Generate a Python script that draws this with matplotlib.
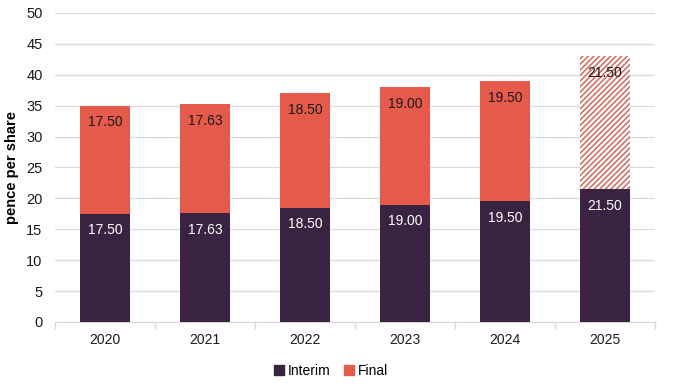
import numpy as np
import matplotlib.pyplot as plt
from matplotlib.patches import Patch

plt.rcParams['font.family'] = ['Liberation Sans', 'DejaVu Sans']
plt.rcParams['hatch.linewidth'] = 1.1

years = ['2020', '2021', '2022', '2023', '2024', '2025']
interim = [17.50, 17.63, 18.50, 19.00, 19.50, 21.50]
final = [17.50, 17.63, 18.50, 19.00, 19.50, 21.50]
forecast = [False, False, False, False, False, True]

interim_color = '#3a2340'
final_color = '#e65a4b'
grid_color = '#d9d9d9'

fig = plt.figure(figsize=(6.8, 3.91), dpi=100)
ax = fig.add_axes([0.081, 0.1765, 0.882, 0.7905])

x = np.arange(len(years))
width = 0.5

ax.bar(x, interim, width, color=interim_color, zorder=3)
for i in range(len(years)):
    if forecast[i]:
        ax.bar(x[i], final[i], width, bottom=interim[i], facecolor='white',
               edgecolor='#d4665a', hatch='//////', linewidth=0, zorder=3)
    else:
        ax.bar(x[i], final[i], width, bottom=interim[i], color=final_color, zorder=3)

# value labels just inside the top of each segment
for i in range(len(years)):
    ax.annotate('%.2f' % interim[i], (x[i], interim[i]), xytext=(0, -12),
                textcoords='offset points', ha='center', va='center',
                color='white', fontsize=10, zorder=4)
    ax.annotate('%.2f' % final[i], (x[i], interim[i] + final[i]), xytext=(0, -12),
                textcoords='offset points', ha='center', va='center',
                color='#1a1a1a', fontsize=10, zorder=4)

ax.set_xlim(-0.5, len(years) - 0.5)
ax.set_ylim(0, 50)
ax.set_yticks(np.arange(0, 51, 5))
ax.set_xticks(x)
ax.set_xticklabels(years)
ax.set_xticks(np.arange(-0.5, len(years)), minor=True)
ax.tick_params(axis='x', which='major', length=0, pad=8, labelsize=10, labelcolor='#1a1a1a')
ax.tick_params(axis='x', which='minor', length=5, color=grid_color, width=1)
ax.tick_params(axis='y', length=0, pad=9, labelsize=10.5, labelcolor='#1a1a1a')

ax.yaxis.grid(True, color=grid_color, linewidth=0.9, zorder=0)
ax.set_axisbelow(True)
for s in ['top', 'right', 'left']:
    ax.spines[s].set_visible(False)
ax.spines['bottom'].set_color(grid_color)

ax.set_ylabel('pence per share', fontsize=10.5, fontweight='bold', labelpad=5)

handles = [Patch(color=interim_color), Patch(color=final_color)]
fig.legend(handles, ['Interim', 'Final'], loc='center', bbox_to_anchor=(0.487, 0.052),
           ncol=2, frameon=False, fontsize=10, handlelength=0.7, handleheight=0.7,
           handletextpad=0.3, columnspacing=1.0)

fig.savefig('out.png', dpi=100)
